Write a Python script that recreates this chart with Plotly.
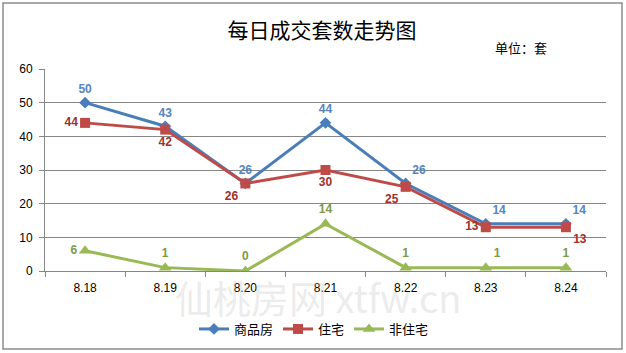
import plotly.graph_objects as go

dates = ["8.18", "8.19", "8.20", "8.21", "8.22", "8.23", "8.24"]
commercial = [50, 43, 26, 44, 26, 14, 14]
residential = [44, 42, 26, 30, 25, 13, 13]
non_residential = [6, 1, 0, 14, 1, 1, 1]
y_ticks = [0, 10, 20, 30, 40, 50, 60]

label_font = "Liberation Sans"

fig = go.Figure()

fig.add_trace(go.Scatter(
    x=dates, y=commercial, name="商品房", mode="lines+markers+text",
    line=dict(color="#4A7EBB", width=3),
    marker=dict(symbol="diamond", size=9, color="#4A7EBB"),
    text=[str(v) for v in commercial],
    textposition=["top center", "top center", "top center", "top center",
                  "top right", "top right", "top right"],
    textfont=dict(color="#5584BF", size=12, family=label_font, weight="bold"),
))
fig.add_trace(go.Scatter(
    x=dates, y=residential, name="住宅", mode="lines+markers+text",
    line=dict(color="#BE4B48", width=3),
    marker=dict(symbol="square", size=10, color="#BE4B48"),
    text=[str(v) for v in residential],
    textposition=["middle left", "bottom center", "bottom left", "bottom center",
                  "bottom left", "middle left", "bottom right"],
    textfont=dict(color="#A0302C", size=12, family=label_font, weight="bold"),
))
fig.add_trace(go.Scatter(
    x=dates, y=non_residential, name="非住宅", mode="lines+markers+text",
    line=dict(color="#98B954", width=3),
    marker=dict(symbol="triangle-up", size=11, color="#98B954"),
    text=[str(v) for v in non_residential],
    textposition=["middle left", "top center", "top center", "top center",
                  "top center", "top right", "top center"],
    textfont=dict(color="#7E9A45", size=12, family=label_font, weight="bold"),
))

fig.update_layout(
    width=626, height=353,
    margin=dict(l=45, r=20, t=69, b=82, autoexpand=False),
    paper_bgcolor="white", plot_bgcolor="white",
    font=dict(family="Liberation Sans, Noto Sans CJK SC", size=11, color="#000000"),
    title=dict(text="每日成交套数走势图", x=(322 - 45) / 561, xref="paper", xanchor="center",
               y=1 - 31 / 353, yref="container", yanchor="middle",
               font=dict(family="Noto Sans CJK SC", size=21, color="#000000")),
    showlegend=True,
    legend=dict(orientation="h", x=(314 - 45) / 561, xanchor="center",
                y=(271 - 329) / 202, yanchor="middle",
                font=dict(family="Noto Sans CJK SC", size=13, color="#000000"),
                itemwidth=30, tracegroupgap=0),
    xaxis=dict(type="category", range=[-0.5, 6.5], showgrid=False,
               showline=True, linecolor="#868686", linewidth=1,
               ticks="outside", tickson="boundaries", ticklen=5, tickcolor="#868686",
               ticklabelstandoff=6,
               tickfont=dict(size=12, family="Liberation Sans")),
    yaxis=dict(range=[0, 60], tickvals=y_ticks, showgrid=True, gridcolor="#868686",
               gridwidth=1, showline=True, linecolor="#868686", linewidth=1,
               ticks="outside", ticklen=5, tickcolor="#868686", zeroline=False,
               ticklabelstandoff=4,
               tickfont=dict(size=12, family="Liberation Sans")),
    shapes=[dict(type="rect", xref="paper", yref="paper",
                 x0=(3 - 45) / 561, x1=(622 - 45) / 561,
                 y0=(271 - 349) / 202, y1=(271 - 3) / 202,
                 line=dict(color="#8C8C8C", width=1.5), layer="below")],
    annotations=[
        dict(text="单位：套", xref="paper", yref="paper",
             x=(521 - 45) / 561, y=(271 - 48) / 202, showarrow=False,
             xanchor="center", yanchor="middle",
             font=dict(family="Noto Sans CJK SC", size=13, color="#000000")),
        dict(text="仙桃房网 xtfw.cn", xref="paper", yref="paper",
             x=(318 - 45) / 561, y=(271 - 296) / 202, showarrow=False,
             xanchor="center", yanchor="middle",
             font=dict(family="Noto Sans CJK SC", size=38, color="rgba(190,190,190,0.3)")),
    ],
)

fig.write_html("out.html")
